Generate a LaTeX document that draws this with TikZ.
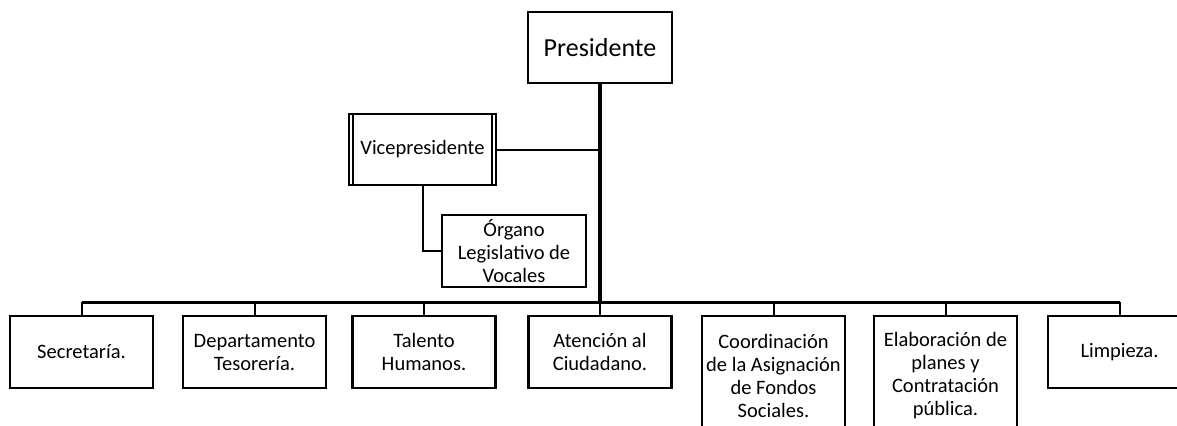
\documentclass[tikz,border=0pt]{standalone}
\usepackage{fontspec}
\setmainfont{Carlito}
\begin{document}
\begin{tikzpicture}[x=1bp,y=-1bp,
  box/.style={draw, line width=2.4bp, minimum width=143bp, minimum height=72bp,
    inner sep=1bp, outer sep=0pt, align=center,
    font=\fontsize{20.5bp}{23bp}\selectfont},
  tallbox/.style={box, minimum height=120bp, anchor=north},
  conn/.style={line width=2bp},
  trunk/.style={line width=4bp}]
\useasboundingbox (0,0) rectangle (1177,425);
\clip (0,0) rectangle (1177,425);
% top level
\node[box, minimum width=144bp, minimum height=71bp,
  font=\fontsize{26bp}{30bp}\selectfont] (pres) at (600,47.5) {Presidente};
\node[box, minimum width=147bp, minimum height=71bp] (vice) at (422.5,149.5) {Vicepresidente};
\draw[line width=2bp] ([xshift=4bp]vice.north west) -- ([xshift=4bp]vice.south west);
\draw[line width=2bp] ([xshift=-4bp]vice.north east) -- ([xshift=-4bp]vice.south east);
\node[box, minimum width=144bp] (org) at (514,251) {Órgano\\Legislativo de\\Vocales};
% bottom level
\node[box] (b1) at (81.5,352) {Secretaría.};
\node[box] (b2) at (254.5,352) {Departamento\\Tesorería.};
\node[box] (b3) at (424,352) {Talento\\Humanos.};
\node[box] (b4) at (600,352) {Atención al\\Ciudadano.};
\node[tallbox] (b5) at (773.5,316) {Coordinación\\de la Asignación\\de Fondos\\Sociales.};
\node[tallbox] (b6) at (945.5,316) {Elaboración de\\planes y\\Contratación\\pública.};
\node[box] (b7) at (1119.5,352) {Limpieza.};
% connectors
\coordinate (bus) at (600,302);
\draw[trunk] (pres.south) -- (pres.south |- bus);
\draw[conn] (vice.east) -- (vice.east -| pres.south);
\draw[conn] (vice.south) |- (org.west);
\draw[line width=3bp] (b1.north |- bus) -- (b7.north |- bus);
\foreach \b in {b1,b2,b3,b4,b5,b6,b7}
  \draw[conn] (\b.north) -- (\b.north |- bus);
\end{tikzpicture}
\end{document}
